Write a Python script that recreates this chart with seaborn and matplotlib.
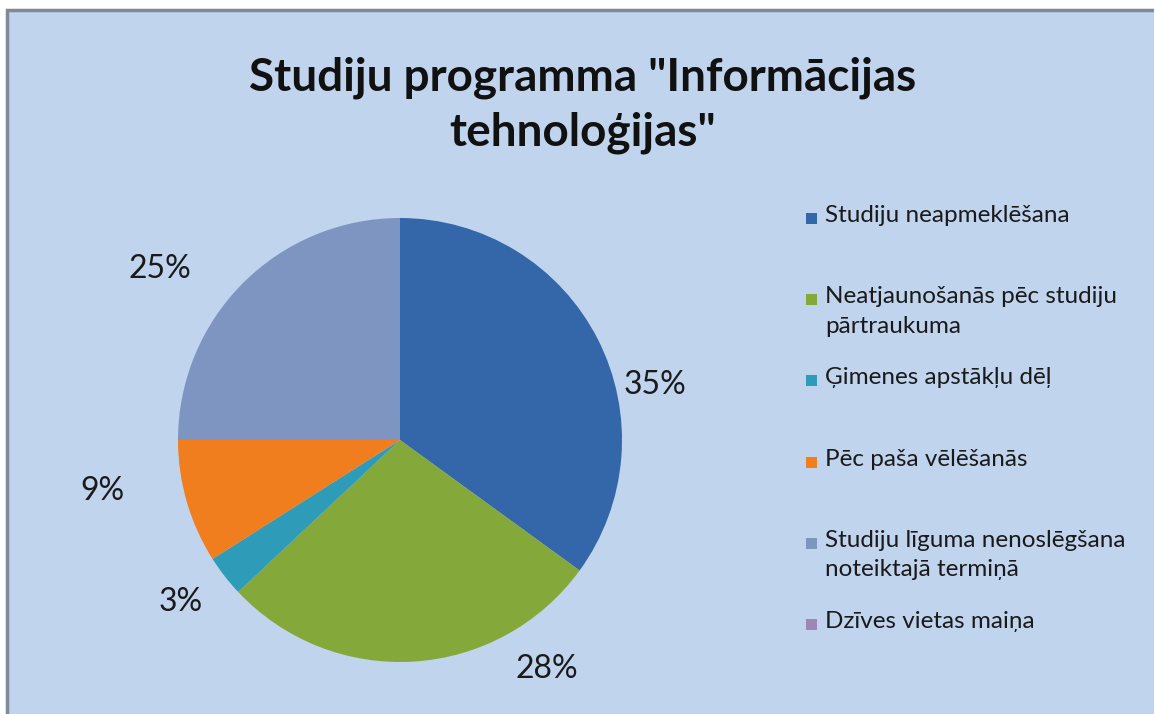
import matplotlib
matplotlib.use("Agg")
import matplotlib.pyplot as plt
import seaborn as sns
from matplotlib.patches import Rectangle

sns.set_theme(style="white")
plt.rcParams['font.family'] = ['Lato', 'DejaVu Sans']

# data
categories = ["Studiju neapmeklēšana",
              "Neatjaunošanās pēc studiju\npārtraukuma",
              "Ģimenes apstākļu dēļ",
              "Pēc paša vēlēšanās",
              "Studiju līguma nenoslēgšana\nnoteiktajā termiņā",
              "Dzīves vietas maiņa"]
values = [35, 28, 3, 9, 25, 0]
colors = ["#3466AA", "#85A83A", "#2E9CB8", "#F07D1E", "#7E95C2", "#9C87B5"]
title = 'Studiju programma "Informācijas\ntehnoloģijas"'

# label placement (layout only), in pie radius units
label_pos = [(1.15, 0.25), (0.66, -1.03), (-0.99, -0.73),
             (-1.34, -0.23), (-1.08, 0.77), None]

bg = "#C0D4EE"
fig = plt.figure(figsize=(11.54, 7.14), dpi=100)
fig.patch.set_facecolor("white")
W, H = 1154, 714

# chart area with grey border on top/left (right/bottom cut off)
fig.patches.append(Rectangle((7 / W, -0.1), 1.2, 1.1 - 10 / H, transform=fig.transFigure,
                             facecolor=bg, edgecolor="#7F8A96", linewidth=2.5, zorder=-5))

fig.text(583 / W, 1 - 105 / H, title, ha="center", va="center",
         fontsize=33, fontweight="bold", color="#111111", linespacing=1.38)

r = 222
ax = fig.add_axes([(400 - r) / W, (714 - 440 - r) / H, 2 * r / W, 2 * r / H])
ax.set_facecolor("none")
ax.pie(values, colors=colors, startangle=90, counterclock=False,
       wedgeprops=dict(linewidth=0))
ax.set_xlim(-1, 1)
ax.set_ylim(-1, 1)
ax.set_aspect("equal")
for v, pos in zip(values, label_pos):
    if pos is None:
        continue
    ax.text(pos[0], pos[1], f"{v}%", ha="center", va="center", fontsize=23,
            color="#1a1a1a", clip_on=False)

# legend, Excel style spacing
for i, (lab, c) in enumerate(zip(categories, colors)):
    y = 218 + 81.2 * i
    fig.patches.append(Rectangle((806 / W, 1 - (y + 6) / H), 11 / W, 11 / H,
                                 transform=fig.transFigure, facecolor=c,
                                 edgecolor="none"))
    fig.text(825 / W, 1 - (y - 13) / H, lab, ha="left", va="top",
             fontsize=17.5, color="#1a1a1a", linespacing=1.5)

fig.savefig("out.png", dpi=100, facecolor=fig.get_facecolor())
